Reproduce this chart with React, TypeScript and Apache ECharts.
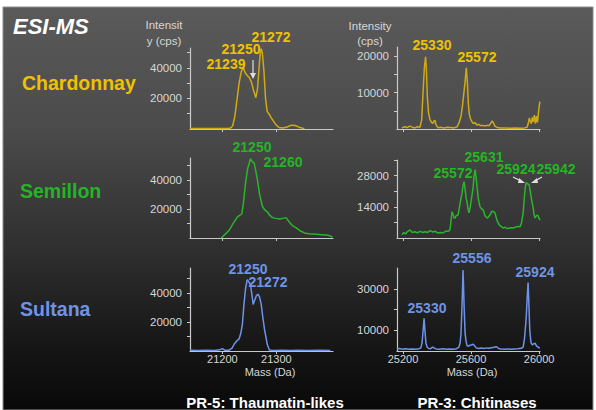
import React, { useEffect, useRef } from "react";
import * as echarts from "echarts";

// ---------- data (mass in Da, intensity in cps) ----------
const chardPR5 = [
  [21140, 400], [21150, 300], [21160, 400], [21170, 300], [21180, 350], [21190, 300], [21200, 350],
  [21210, 400], [21215, 700], [21219, 2000], [21223, 8000], [21227, 19000], [21231, 30000],
  [21235, 37500], [21239, 40000], [21242, 37000], [21246, 35000], [21250, 33500], [21254, 30500],
  [21258, 25000], [21262, 20500], [21265, 26000], [21268, 40000], [21270, 49000], [21272, 52500],
  [21274, 50000], [21277, 38000], [21280, 20000], [21283, 11500], [21287, 9500], [21291, 7000],
  [21295, 5000], [21300, 2500], [21305, 1000], [21312, 600], [21320, 1300], [21328, 2500],
  [21335, 2300], [21342, 1200], [21350, 400], [21352, 300],
];

const chardPR3 = [
  [25194, 300], [25210, 600], [25225, 400], [25240, 800], [25255, 500], [25270, 300], [25285, 600],
  [25300, 500], [25310, 2500], [25318, 10000], [25326, 17000], [25333, 19800], [25338, 16000],
  [25343, 9000], [25350, 4500], [25359, 2500], [25368, 1800], [25376, 1500], [25382, 2200],
  [25388, 2400], [25394, 1200], [25406, 300], [25420, 500], [25440, 300], [25460, 500], [25480, 400],
  [25500, 300], [25518, 600], [25530, 1800], [25541, 3500], [25550, 6500], [25558, 10000],
  [25565, 13000], [25572, 16800], [25578, 13000], [25584, 7000], [25590, 4000], [25597, 2800],
  [25605, 2000], [25614, 1500], [25624, 1700], [25634, 1100], [25645, 1300], [25655, 900],
  [25665, 1000], [25680, 800], [25695, 1000], [25705, 900], [25715, 1500], [25724, 2200],
  [25730, 1800], [25740, 800], [25755, 400], [25771, 300], [25800, 300], [25830, 200], [25860, 300],
  [25890, 200], [25915, 300], [25929, 500], [25936, 1500], [25942, 3000], [25948, 2200],
  [25954, 1500], [25960, 3200], [25966, 2000], [25972, 3800], [25978, 1500], [25984, 3500],
  [25990, 1800], [25996, 4500], [26001, 6500], [26005, 7500],
];

const semPR5 = [
  [21198, 0], [21205, 2500], [21213, 5500], [21220, 10000], [21228, 14500], [21232, 15500],
  [21236, 16500], [21239, 24000], [21243, 38000], [21247, 48000], [21252, 54500], [21255, 52500],
  [21259, 51500], [21262, 46000], [21265, 40000], [21269, 30000], [21274, 22000], [21278, 19500],
  [21283, 18000], [21288, 15500], [21293, 14000], [21299, 13500], [21306, 13000], [21312, 13500],
  [21318, 14000], [21324, 11000], [21330, 8500], [21337, 7000], [21344, 5000], [21352, 3500],
  [21360, 3000], [21367, 2800], [21375, 2500], [21384, 2300], [21393, 2000], [21399, 1500],
  [21404, 700],
];

const semPR3 = [
  [25194, 1400], [25205, 2500], [25215, 1800], [25225, 2800], [25241, 3600], [25255, 2500],
  [25270, 2800], [25285, 2300], [25300, 3000], [25315, 2500], [25330, 2800], [25345, 2500],
  [25360, 3300], [25376, 2700], [25390, 3000], [25405, 2200], [25420, 2500], [25435, 2300],
  [25450, 3000], [25465, 3000], [25476, 3600], [25482, 7500], [25488, 11700], [25495, 10500],
  [25500, 9000], [25506, 9000], [25513, 10000], [25524, 10400], [25532, 14000], [25540, 17500],
  [25547, 20000], [25553, 23500], [25559, 25300], [25565, 22000], [25571, 18000], [25576, 16300],
  [25582, 13000], [25588, 11300], [25595, 14000], [25603, 18000], [25612, 22600], [25618, 28000],
  [25624, 30700], [25630, 27000], [25635, 23000], [25642, 18000], [25648, 15500], [25653, 14000],
  [25662, 13000], [25671, 12700], [25682, 10000], [25694, 9000], [25703, 9500], [25712, 10400],
  [25722, 12000], [25732, 11800], [25741, 11300], [25750, 8500], [25759, 6800], [25770, 5500],
  [25780, 5000], [25788, 4500], [25800, 4800], [25815, 4200], [25830, 4600], [25847, 4500],
  [25860, 4800], [25875, 5200], [25888, 5000], [25897, 7000], [25906, 11300], [25914, 19000],
  [25919, 23000], [25924, 24900], [25932, 24300], [25941, 24000], [25948, 21000], [25956, 17000],
  [25965, 13500], [25970, 10500], [25976, 9000], [25982, 9800], [25988, 10200], [25994, 10000],
  [25999, 8800], [26005, 8000],
];

const sulPR5 = [
  [21140, 500], [21155, 400], [21170, 500], [21185, 400], [21195, 800], [21200, 1600], [21204, 600],
  [21212, 500], [21218, 2000], [21222, 4800], [21227, 7000], [21231, 8300], [21234, 12000],
  [21237, 18000], [21240, 32000], [21243, 43000], [21246, 49000], [21249, 47500], [21252, 45500],
  [21255, 38000], [21257, 32000], [21260, 35000], [21263, 38000], [21266, 39000], [21269, 37000],
  [21272, 32000], [21275, 23000], [21278, 15000], [21281, 9000], [21283, 4800], [21287, 700],
  [21295, 400], [21310, 600], [21325, 400], [21340, 500], [21360, 400], [21380, 500], [21400, 400],
];

const sulPR3 = [
  [25165, 1000], [25180, 1200], [25195, 900], [25215, 1100], [25235, 900], [25255, 1000],
  [25275, 800], [25295, 1100], [25305, 1500], [25312, 3800], [25318, 9500], [25324, 15700],
  [25329, 10000], [25335, 3800], [25342, 1800], [25352, 1200], [25362, 1100], [25370, 1600],
  [25376, 1900], [25384, 1400], [25395, 1000], [25415, 900], [25435, 1100], [25455, 800],
  [25475, 1000], [25495, 900], [25515, 1100], [25529, 1900], [25536, 4000], [25541, 8500],
  [25547, 22000], [25553, 39000], [25559, 22000], [25565, 8500], [25571, 4500], [25577, 2500],
  [25585, 2300], [25595, 2800], [25605, 3000], [25612, 3300], [25620, 2600], [25630, 1500],
  [25645, 1200], [25660, 1400], [25675, 1200], [25690, 1500], [25705, 1300], [25720, 1600],
  [25735, 1800], [25745, 2000], [25753, 1900], [25762, 1200], [25775, 1000], [25795, 800],
  [25815, 1000], [25835, 900], [25855, 1000], [25875, 1100], [25895, 1300], [25906, 1900],
  [25914, 6000], [25920, 12000], [25924, 16000], [25930, 26000], [25935, 33000], [25940, 22000],
  [25945, 10000], [25950, 5500], [25953, 3800], [25960, 3000], [25968, 3400], [25976, 3800],
  [25984, 2500], [25992, 2000], [26000, 1500], [26005, 1400],
];

// ---------- axis ranges & ticks ----------
const pr5Range = [21140, 21405];
const pr3Range = [25165, 26005];
const pr5Ticks = [21200, 21300];
const pr3Ticks = [25200, 25600, 26000];

const yMaxes = [53000, 22500, 55000, 35000, 57000, 40000];
const yTickValues = [
  [10000, 20000, 30000, 40000, 50000],
  [5000, 10000, 15000, 20000],
  [10000, 20000, 30000, 40000, 50000],
  [7000, 14000, 21000, 28000, 35000],
  [10000, 20000, 30000, 40000, 50000],
  [10000, 20000, 30000],
];
const yLabelValues = [
  [20000, 40000],
  [10000, 20000],
  [20000, 40000],
  [14000, 28000],
  [20000, 40000],
  [10000, 30000],
];

const cultivars = ["Chardonnay", "Semillon", "Sultana"];
const familyTitles = ["PR-5: Thaumatin-likes", "PR-3: Chitinases"];
const peakLabels = [
  ["21272", "21250", "21239"],
  ["25330", "25572"],
  ["21250", "21260"],
  ["25631", "25572", "25924", "25942"],
  ["21250", "21272"],
  ["25556", "25924", "25330"],
];

// ---------- layout / styles ----------
const FONT = '"Liberation Sans", Arial, sans-serif';
const LINE_COLORS = ["#cfaa12", "#2bb52b", "#6e93ea"];
const TEXT_COLORS = ["#edc200", "#25b425", "#6f94e6"];
const AXIS_COLOR = "#c9c9c9";
const AXIS_TEXT = "#d6d6d6";

const gridRects = [
  { left: 190, top: 48, width: 143, height: 81 },
  { left: 397, top: 47, width: 143, height: 82 },
  { left: 190, top: 158, width: 143, height: 80 },
  { left: 397, top: 160, width: 143, height: 78 },
  { left: 190, top: 268, width: 143, height: 83 },
  { left: 397, top: 268, width: 143, height: 83 },
];

const peakPos = [
  [[271, 37], [241, 49], [226, 64]],
  [[432, 45], [477, 57]],
  [[252, 147], [283, 162]],
  [[484, 157], [453, 173], [516, 169], [556, 169]],
  [[248, 269], [268, 282]],
  [[472, 258], [535, 272], [427, 308]],
];

const cultivarPos = [[22, 83], [20, 191], [20, 309]];

function txt(x: number, y: number, text: string, fill: string, font: string, align = "center") {
  return {
    type: "text",
    x,
    y,
    silent: true,
    z: 10,
    style: {
      text,
      fill,
      font,
      align,
      verticalAlign: "middle",
      textAlign: align,
      textVerticalAlign: "middle",
    },
  };
}

export default function App() {
  const ref = useRef<HTMLDivElement>(null);

  useEffect(() => {
    if (!ref.current) return;
    const chart = echarts.init(ref.current, undefined, { renderer: "svg" });
    const seriesData = [chardPR5, chardPR3, semPR5, semPR3, sulPR5, sulPR3];

    const grids = gridRects.map((g) => ({ ...g, containLabel: false }));
    const xAxes = seriesData.map((_, i) => {
      const isPR5 = i % 2 === 0;
      const row = Math.floor(i / 2);
      const range = isPR5 ? pr5Range : pr3Range;
      const ticks = isPR5 ? pr5Ticks : pr3Ticks;
      return {
        gridIndex: i,
        type: "value",
        min: range[0],
        max: range[1],
        axisLine: { show: true, lineStyle: { color: AXIS_COLOR, width: 1.2 } },
        axisTick: { show: true, length: 3, customValues: ticks, lineStyle: { color: AXIS_COLOR } },
        axisLabel: {
          show: row === 2,
          customValues: ticks,
          formatter: (v: number) => String(v),
          color: AXIS_TEXT,
          fontSize: 11,
          fontFamily: FONT,
          margin: 2,
        },
        splitLine: { show: false },
      };
    });
    const yAxes = seriesData.map((_, i) => ({
      gridIndex: i,
      type: "value",
      min: 0,
      max: yMaxes[i],
      axisLine: { show: true, lineStyle: { color: AXIS_COLOR, width: 1.2 } },
      axisTick: { show: true, length: 3, customValues: yTickValues[i], lineStyle: { color: AXIS_COLOR } },
      axisLabel: {
        show: true,
        customValues: yLabelValues[i],
        formatter: (v: number) => (yLabelValues[i].includes(v) ? String(v) : ""),
        color: AXIS_TEXT,
        fontSize: 11.5,
        fontFamily: FONT,
        margin: 8,
      },
      splitLine: { show: false },
    }));
    const series = seriesData.map((d, i) => ({
      type: "line",
      xAxisIndex: i,
      yAxisIndex: i,
      data: d,
      symbol: "none",
      showSymbol: false,
      lineStyle: { color: LINE_COLORS[Math.floor(i / 2)], width: 1.5 },
      z: 5,
    }));

    const graphics: any[] = [
      {
        type: "rect",
        z: -100,
        silent: true,
        shape: { x: 3, y: 7, width: 590, height: 403 },
        style: {
          fill: new echarts.graphic.LinearGradient(0, 0, 0, 1, [
            { offset: 0, color: "#5a5a5a" },
            { offset: 0.3, color: "#4b4b4b" },
            { offset: 0.6, color: "#2f2f2f" },
            { offset: 0.85, color: "#151515" },
            { offset: 1, color: "#090909" },
          ]),
          stroke: "#8c8c8c",
          lineWidth: 1,
        },
      },
      txt(13, 26, "ESI-MS", "#ffffff", `italic bold 22px ${FONT}`, "left"),
      txt(164, 25, "Intensit", AXIS_TEXT, `11.5px ${FONT}`),
      txt(164, 41, "y (cps)", AXIS_TEXT, `11.5px ${FONT}`),
      txt(370, 26, "Intensity", AXIS_TEXT, `11.5px ${FONT}`),
      txt(370, 41, "(cps)", AXIS_TEXT, `11.5px ${FONT}`),
      txt(270, 372, "Mass (Da)", AXIS_TEXT, `11px ${FONT}`),
      txt(472, 372, "Mass (Da)", AXIS_TEXT, `11px ${FONT}`),
      txt(265, 402, familyTitles[0], "#ffffff", `bold 15px ${FONT}`),
      txt(477, 402, familyTitles[1], "#ffffff", `bold 15px ${FONT}`),
      // arrows
      { type: "line", z: 10, silent: true, shape: { x1: 253, y1: 60, x2: 253, y2: 74 }, style: { stroke: "#e0e0e0", lineWidth: 1.2 } },
      { type: "polygon", z: 10, silent: true, shape: { points: [[250, 73], [256, 73], [253, 79]] }, style: { fill: "#e0e0e0" } },
      { type: "line", z: 10, silent: true, shape: { x1: 513, y1: 177, x2: 521, y2: 181 }, style: { stroke: "#e0e0e0", lineWidth: 1.2 } },
      { type: "polygon", z: 10, silent: true, shape: { points: [[519, 178], [518, 183], [525, 183]] }, style: { fill: "#e0e0e0" } },
      { type: "line", z: 10, silent: true, shape: { x1: 542, y1: 177, x2: 535, y2: 181 }, style: { stroke: "#e0e0e0", lineWidth: 1.2 } },
      { type: "polygon", z: 10, silent: true, shape: { points: [[537, 178], [538, 183], [531, 183]] }, style: { fill: "#e0e0e0" } },
    ];
    cultivars.forEach((c, r) => {
      graphics.push(txt(cultivarPos[r][0], cultivarPos[r][1], c, TEXT_COLORS[r], `bold 19.5px ${FONT}`, "left"));
    });
    peakLabels.forEach((labels, i) => {
      const color = TEXT_COLORS[Math.floor(i / 2)];
      labels.forEach((l, j) => {
        graphics.push(txt(peakPos[i][j][0], peakPos[i][j][1], l, color, `bold 14px ${FONT}`));
      });
    });

    chart.setOption({
      animation: false,
      backgroundColor: "#ffffff",
      grid: grids,
      xAxis: xAxes,
      yAxis: yAxes,
      series,
      graphic: { elements: graphics },
    });
    return () => chart.dispose();
  }, []);

  return (
    <div
      ref={ref}
      style={{ position: "absolute", left: 0, top: 0, width: 596, height: 410 }}
    />
  );
}
